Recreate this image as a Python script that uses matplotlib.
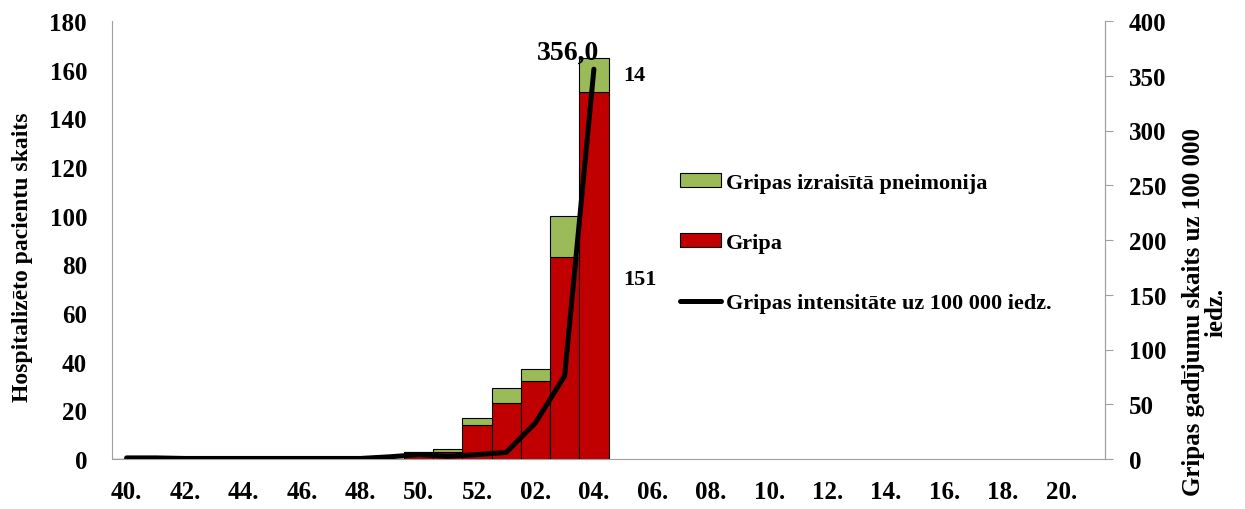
import matplotlib
matplotlib.use('Agg')
import matplotlib.pyplot as plt
import numpy as np

plt.rcParams['font.family'] = ['Liberation Serif', 'DejaVu Serif']
plt.rcParams['font.weight'] = 'bold'

# --- dati ---
weeks = ['40', '41', '42', '43', '44', '45', '46', '47', '48', '49', '50', '51', '52',
         '01', '02', '03', '04', '05', '06', '07', '08', '09', '10', '11', '12',
         '13', '14', '15', '16', '17', '18', '19', '20', '21']
gripa = [0, 0, 0, 0, 0, 0, 0, 0, 0, 0, 3, 3, 14, 23, 32, 83, 151]
pneimonija = [0, 0, 0, 0, 0, 0, 0, 0, 0, 0, 0, 1, 3, 6, 5, 17, 14]
intensitate = [1, 1, 0.5, 0.5, 0.5, 0.5, 0.5, 0.5, 0.5, 2, 4, 2.5, 4, 6, 33, 76, 356.0]

red = '#C00000'
green = '#9BBB59'
grey = '#a0a0a0'

x = np.arange(len(weeks))
n_bar = len(gripa)

fig, ax = plt.subplots(figsize=(12.45, 5.10), dpi=100)
fig.subplots_adjust(left=112 / 1245, right=1105 / 1245, bottom=1 - 460 / 510, top=1 - 22 / 510)

b1 = ax.bar(x[:n_bar], gripa, width=1.0, color=red, edgecolor='black', linewidth=0.8,
            label='Gripa')
b2 = ax.bar(x[:n_bar], pneimonija, width=1.0, bottom=gripa, color=green,
            edgecolor='black', linewidth=0.8, label='Gripas izraisītā pneimonija')

ax.set_xlim(-0.5, len(weeks) - 0.5)
ax.set_ylim(0, 180)
ax.set_yticks(range(0, 181, 20))
ax.set_xticks(x[::2])
ax.set_xticklabels([w + '.' for w in weeks[::2]])
ax.tick_params(axis='y', labelsize=18, length=0, pad=18)
ax.tick_params(axis='x', labelsize=18, length=0, pad=15)
ax.spines['top'].set_visible(False)
for s in ['left', 'bottom', 'right']:
    ax.spines[s].set_color(grey)

# vertibu uzraksti pedejam stabinam
last = n_bar - 1
ax.text(last + 1.0, gripa[last] / 2 - 1.5, str(gripa[last]), fontsize=16, fontweight='bold',
        va='center', ha='left')
ax.text(last + 1.0, gripa[last] + pneimonija[last] / 2, str(pneimonija[last]), fontsize=16,
        fontweight='bold', va='center', ha='left')

ax2 = ax.twinx()
ln, = ax2.plot(x[:len(intensitate)], intensitate, color='black', linewidth=3.6,
               solid_capstyle='round', label='Gripas intensitāte uz 100 000 iedz.')
ax2.set_ylim(0, 400)
ax2.set_yticks(range(0, 401, 50))
ax2.tick_params(axis='y', labelsize=18, length=6, color=grey, pad=11)
for s in ['top', 'left', 'bottom']:
    ax2.spines[s].set_visible(False)
ax2.spines['right'].set_color(grey)
ax2.annotate(f'{intensitate[-1]:.1f}'.replace('.', ','), (len(intensitate) - 1, intensitate[-1]),
             xytext=(-19, 12), textcoords='offset points', ha='center', va='center',
             fontsize=20, fontweight='bold')

for t in ax.get_xticklabels() + ax.get_yticklabels() + ax2.get_yticklabels():
    t.set_fontweight('bold')

fig.text(23 / 1245, 1 - 257 / 510, 'Hospitalizēto pacientu skaits', rotation=90,
         ha='center', va='center', fontsize=17, fontweight='bold')
fig.text(1205 / 1245, 1 - 312 / 510, 'Gripas gadījumu skaits uz 100 000\niedz.', rotation=90,
         ha='center', va='center', multialignment='center', fontsize=18, fontweight='bold',
         linespacing=0.95)

ax.legend([b2, b1, ln], [b2.get_label(), b1.get_label(), ln.get_label()],
          loc='upper left', bbox_to_anchor=(0.572, 0.653), frameon=False, borderpad=0,
          borderaxespad=0, prop={'size': 16, 'weight': 'bold'}, labelspacing=1.8,
          handlelength=1.85, handletextpad=0.2, handleheight=0.55)

plt.savefig('out.png', dpi=100)
